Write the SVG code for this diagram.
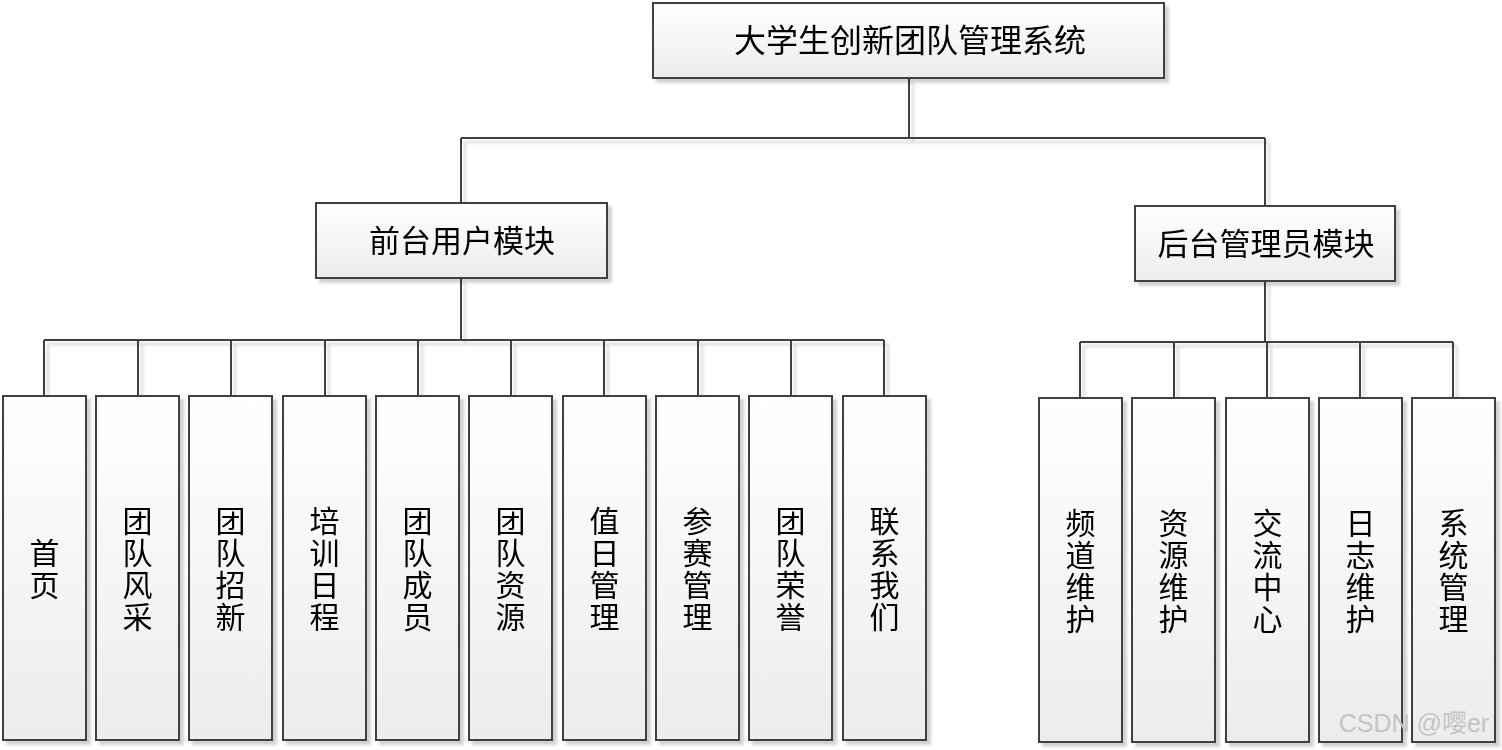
<svg xmlns="http://www.w3.org/2000/svg" width="1502" height="750" viewBox="0 0 1502 750">
<defs>
<linearGradient id="g" x1="0" y1="0" x2="0" y2="1">
<stop offset="0" stop-color="#ffffff"/>
<stop offset="1" stop-color="#ececec"/>
</linearGradient>
<filter id="sh" x="-10%" y="-10%" width="130%" height="130%">
<feGaussianBlur in="SourceAlpha" stdDeviation="1.5" result="b"/>
<feOffset dx="4" dy="4" result="o"/>
<feComponentTransfer in="o" result="s"><feFuncA type="linear" slope="0.18"/></feComponentTransfer>
<feMerge><feMergeNode in="s"/><feMergeNode in="SourceGraphic"/></feMerge>
</filter>
</defs>
<style>
rect.box{fill:url(#g);stroke:#404040;stroke-width:2}
.c{fill:none;stroke:#404040;stroke-width:2}
text{font-family:"Liberation Serif","Noto Sans CJK SC",serif;fill:#000;text-anchor:middle}
.t1{font-size:32px}
.t2{font-size:31px}
.t3{font-size:30px}
.wm{font-family:"Liberation Sans","Noto Sans CJK SC",sans-serif;font-size:25px;fill:#c4c4c4}
</style>
<rect width="1502" height="750" fill="#ffffff"/>
<g id="connectors" filter="url(#sh)">
<path class="c" d="M909 78V138M461 138H1265M461 138V203M1265 138V206"/>
<path class="c" d="M461 278V340M44 340H884M44 340V396M138 340V396M231 340V396M325 340V396M418 340V396M511 340V396M604 340V396M698 340V396M791 340V396M884 340V396"/>
<path class="c" d="M1265 281V342M1080 342H1453M1080 342V398M1174 342V398M1267 342V398M1360 342V398M1453 342V398"/>
</g>
<g id="root" filter="url(#sh)"><rect class="box" x="653" y="3" width="511" height="75"/><text class="t1" x="910" y="52">大学生创新团队管理系统</text></g>
<g id="front" filter="url(#sh)"><rect class="box" x="316" y="203" width="291" height="75"/><text class="t2" x="462" y="252">前台用户模块</text></g>
<g id="back" filter="url(#sh)"><rect class="box" x="1135" y="206" width="260" height="75"/><text class="t2" x="1266" y="255">后台管理员模块</text></g>
<g id="n1" filter="url(#sh)"><rect class="box" x="3" y="396" width="83" height="344"/><text class="t3"><tspan x="44.5" y="564">首</tspan><tspan x="44.5" y="596">页</tspan></text></g>
<g id="n2" filter="url(#sh)"><rect class="box" x="96" y="396" width="83" height="344"/><text class="t3"><tspan x="137.5" y="532">团</tspan><tspan x="137.5" y="564">队</tspan><tspan x="137.5" y="596">风</tspan><tspan x="137.5" y="628">采</tspan></text></g>
<g id="n3" filter="url(#sh)"><rect class="box" x="189" y="396" width="83" height="344"/><text class="t3"><tspan x="230.5" y="532">团</tspan><tspan x="230.5" y="564">队</tspan><tspan x="230.5" y="596">招</tspan><tspan x="230.5" y="628">新</tspan></text></g>
<g id="n4" filter="url(#sh)"><rect class="box" x="283" y="396" width="83" height="344"/><text class="t3"><tspan x="324.5" y="532">培</tspan><tspan x="324.5" y="564">训</tspan><tspan x="324.5" y="596">日</tspan><tspan x="324.5" y="628">程</tspan></text></g>
<g id="n5" filter="url(#sh)"><rect class="box" x="376" y="396" width="83" height="344"/><text class="t3"><tspan x="417.5" y="532">团</tspan><tspan x="417.5" y="564">队</tspan><tspan x="417.5" y="596">成</tspan><tspan x="417.5" y="628">员</tspan></text></g>
<g id="n6" filter="url(#sh)"><rect class="box" x="469" y="396" width="83" height="344"/><text class="t3"><tspan x="510.5" y="532">团</tspan><tspan x="510.5" y="564">队</tspan><tspan x="510.5" y="596">资</tspan><tspan x="510.5" y="628">源</tspan></text></g>
<g id="n7" filter="url(#sh)"><rect class="box" x="563" y="396" width="83" height="344"/><text class="t3"><tspan x="604.5" y="532">值</tspan><tspan x="604.5" y="564">日</tspan><tspan x="604.5" y="596">管</tspan><tspan x="604.5" y="628">理</tspan></text></g>
<g id="n8" filter="url(#sh)"><rect class="box" x="656" y="396" width="83" height="344"/><text class="t3"><tspan x="697.5" y="532">参</tspan><tspan x="697.5" y="564">赛</tspan><tspan x="697.5" y="596">管</tspan><tspan x="697.5" y="628">理</tspan></text></g>
<g id="n9" filter="url(#sh)"><rect class="box" x="749" y="396" width="83" height="344"/><text class="t3"><tspan x="790.5" y="532">团</tspan><tspan x="790.5" y="564">队</tspan><tspan x="790.5" y="596">荣</tspan><tspan x="790.5" y="628">誉</tspan></text></g>
<g id="n10" filter="url(#sh)"><rect class="box" x="843" y="396" width="83" height="344"/><text class="t3"><tspan x="884.5" y="532">联</tspan><tspan x="884.5" y="564">系</tspan><tspan x="884.5" y="596">我</tspan><tspan x="884.5" y="628">们</tspan></text></g>
<g id="b1" filter="url(#sh)"><rect class="box" x="1039" y="398" width="83" height="344"/><text class="t3"><tspan x="1080.5" y="534">频</tspan><tspan x="1080.5" y="566">道</tspan><tspan x="1080.5" y="598">维</tspan><tspan x="1080.5" y="630">护</tspan></text></g>
<g id="b2" filter="url(#sh)"><rect class="box" x="1132" y="398" width="83" height="344"/><text class="t3"><tspan x="1173.5" y="534">资</tspan><tspan x="1173.5" y="566">源</tspan><tspan x="1173.5" y="598">维</tspan><tspan x="1173.5" y="630">护</tspan></text></g>
<g id="b3" filter="url(#sh)"><rect class="box" x="1226" y="398" width="83" height="344"/><text class="t3"><tspan x="1267.5" y="534">交</tspan><tspan x="1267.5" y="566">流</tspan><tspan x="1267.5" y="598">中</tspan><tspan x="1267.5" y="630">心</tspan></text></g>
<g id="b4" filter="url(#sh)"><rect class="box" x="1319" y="398" width="83" height="344"/><text class="t3"><tspan x="1360.5" y="534">日</tspan><tspan x="1360.5" y="566">志</tspan><tspan x="1360.5" y="598">维</tspan><tspan x="1360.5" y="630">护</tspan></text></g>
<g id="b5" filter="url(#sh)"><rect class="box" x="1412" y="398" width="83" height="344"/><text class="t3"><tspan x="1453.5" y="534">系</tspan><tspan x="1453.5" y="566">统</tspan><tspan x="1453.5" y="598">管</tspan><tspan x="1453.5" y="630">理</tspan></text></g>
<text class="wm" x="1414" y="732">CSDN @嘤er</text>
</svg>
